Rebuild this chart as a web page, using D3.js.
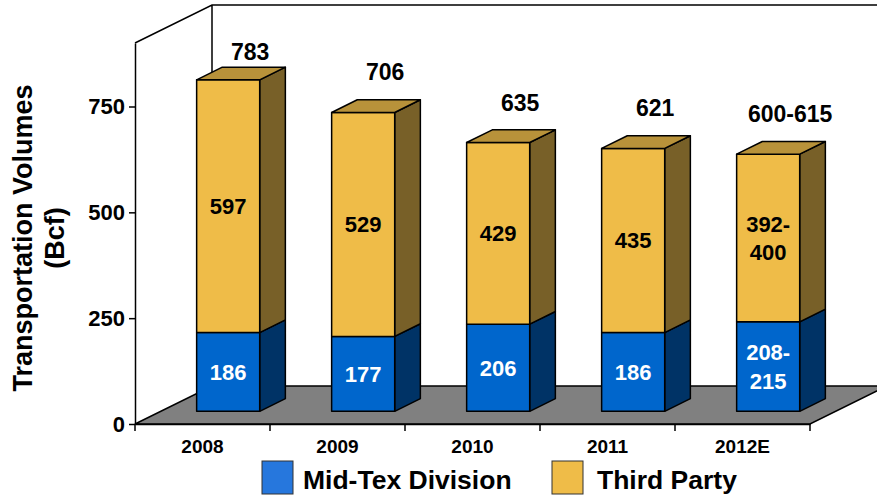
<!DOCTYPE html>
<html>
<head>
<meta charset="utf-8">
<title>Transportation Volumes</title>
<script src="https://d3js.org/d3.v7.min.js"></script>
<style>
  body { margin: 0; background: #fff; }
  svg text { font-family: Arial, "Liberation Sans", sans-serif; font-weight: bold; }
</style>
</head>
<body>
<svg class="chart" width="877" height="495"></svg>

<script>
// data (2012E heights use the midpoint of the range)
var years = ["2008", "2009", "2010", "2011", "2012E"];
var midTex = [186, 177, 206, 186, 211.5];
var thirdParty = [597, 529, 429, 435, 396];
var midTexLabels = [["186"], ["177"], ["206"], ["186"], ["208-", "215"]];
var thirdPartyLabels = [["597"], ["529"], ["429"], ["435"], ["392-", "400"]];
var totalLabels = ["783", "706", "635", "621", "600-615"];
var yTicks = [0, 250, 500, 750];
var seriesNames = ["Mid-Tex Division", "Third Party"];

var svg = d3.select(".chart");

// depth of the floor and of each bar
var depthX = 77, depthY = 38;
var barDX = depthX / 3, barDY = depthY / 3;

var x = d3.scaleBand().domain(years).range([135, 810])
    .paddingInner(0.533).paddingOuter(0.2665);
var y = d3.scaleLinear().domain([0, 900]).range([424, 43]);

var colors = {
  blueFront: "#0066CC", blueSide: "#003366",
  yellowFront: "#EFBC48", yellowSide: "#786028", yellowTop: "#B8923A",
  floor: "#808080", legendBlue: "#2677DD"
};

function pts(arr) { return arr.map(function(p){ return p.join(","); }).join(" "); }

// floor
var x0 = x.range()[0], x1 = x.range()[1], y0 = y(0);
svg.append("polygon")
  .attr("points", pts([[x0, y0], [x1, y0], [x1 + depthX, y0 - depthY], [x0 + depthX, y0 - depthY]]))
  .attr("fill", colors.floor).attr("stroke", "#000").attr("stroke-width", 1.5);

// back wall outline
var yTop = y(y.domain()[1]);
svg.append("path")
  .attr("d", "M" + x0 + "," + yTop + "L" + (x0 + depthX) + "," + (yTop - depthY) +
             "L877," + (yTop - depthY) +
             "M" + (x0 + depthX) + "," + (yTop - depthY) + "L" + (x0 + depthX) + "," + (y0 - depthY))
  .attr("fill", "none").attr("stroke", "#000").attr("stroke-width", 1.5);

// axes
svg.append("g")
  .attr("transform", "translate(" + x0 + ",0)")
  .call(d3.axisLeft(y).tickValues(yTicks).tickSize(6).tickSizeOuter(0).tickPadding(4))
  .call(function(g){
    g.select(".domain").attr("stroke-width", 1.5);
    g.selectAll(".tick line").attr("stroke-width", 1.5);
    g.selectAll("text").style("font-size", "22px").attr("fill", "#000");
  });

svg.append("g")
  .attr("transform", "translate(0," + y0 + ")")
  .call(d3.axisBottom(x).tickSize(0).tickPadding(16).tickSizeOuter(0))
  .call(function(g){
    g.select(".domain").attr("stroke-width", 1.5);
    g.selectAll("text").style("font-size", "19px").attr("fill", "#000");
  });

// category separators on the x axis
var step = x.step();
svg.append("g").selectAll("line")
  .data(d3.range(years.length + 1))
  .join("line")
  .attr("x1", function(i){ return x0 + i * step; })
  .attr("x2", function(i){ return x0 + i * step; })
  .attr("y1", y0).attr("y2", y0 + 7)
  .attr("stroke", "#000").attr("stroke-width", 1.5);

// one 3d block: front face, side, optional top
function block(g, xl, w, vLow, vHigh, front, side, top) {
  var xa = xl + barDX, xb = xa + w;
  var ya = y(vLow) - barDY, yb = y(vHigh) - barDY;
  g.append("polygon")
    .attr("points", pts([[xb, ya], [xb + barDX, ya - barDY], [xb + barDX, yb - barDY], [xb, yb]]))
    .attr("fill", side);
  g.append("rect")
    .attr("x", xa).attr("y", yb).attr("width", w).attr("height", ya - yb)
    .attr("fill", front);
  if (top) {
    g.append("polygon")
      .attr("points", pts([[xa, yb], [xb, yb], [xb + barDX, yb - barDY], [xa + barDX, yb - barDY]]))
      .attr("fill", top);
  }
  g.selectAll("*").attr("stroke", "#000").attr("stroke-width", 1.5).attr("stroke-linejoin", "round");
}

function lines(g, cx, cy, textLines, size, fill) {
  var lh = size * 1.28;
  var t = g.append("text")
    .attr("text-anchor", "middle").attr("font-size", size).attr("fill", fill);
  textLines.forEach(function(s, k){
    t.append("tspan").attr("x", cx)
      .attr("y", cy + (k - (textLines.length - 1) / 2) * lh + size * 0.36)
      .text(s);
  });
}

years.forEach(function(yr, i){
  var g = svg.append("g").attr("class", "bar");
  var w = x.bandwidth(), xl = x(yr);
  var total = midTex[i] + thirdParty[i];
  block(g.append("g"), xl, w, 0, midTex[i], colors.blueFront, colors.blueSide, null);
  block(g.append("g"), xl, w, midTex[i], total, colors.yellowFront, colors.yellowSide, colors.yellowTop);

  var cx = xl + barDX + w / 2;
  lines(g, cx, (y(0) + y(midTex[i])) / 2 - barDY, midTexLabels[i], 22, "#fff");
  lines(g, cx, (y(midTex[i]) + y(total)) / 2 - barDY, thirdPartyLabels[i], 22, "#000");

  var topY = y(total) - barDY;
  g.append("text")
    .attr("x", cx + 22).attr("y", Math.max(60, topY - 32))
    .attr("text-anchor", "middle").attr("font-size", 23).attr("fill", "#000")
    .text(totalLabels[i]);
});

// y title
var title = svg.append("text")
  .attr("transform", "translate(0,238) rotate(-90)")
  .attr("text-anchor", "middle").attr("font-size", 27).attr("fill", "#000");
title.append("tspan").attr("x", 0).attr("y", 32).text("Transportation Volumes");
title.append("tspan").attr("x", 0).attr("y", 64).text("(Bcf)");

// legend
var legend = svg.append("g").selectAll("g")
  .data(seriesNames)
  .join("g")
  .attr("transform", function(d, i){ return "translate(" + (262 + i * 290) + ",461)"; });
legend.append("rect")
  .attr("width", 31).attr("height", 33)
  .attr("fill", function(d, i){ return i === 0 ? colors.legendBlue : colors.yellowFront; })
  .attr("stroke", "#333").attr("stroke-width", 1);
legend.append("text")
  .attr("x", function(d, i){ return i === 0 ? 41 : 45; }).attr("y", 28)
  .attr("font-size", 26.5).attr("fill", "#000")
  .text(function(d){ return d; });
</script>
</body>
</html>
